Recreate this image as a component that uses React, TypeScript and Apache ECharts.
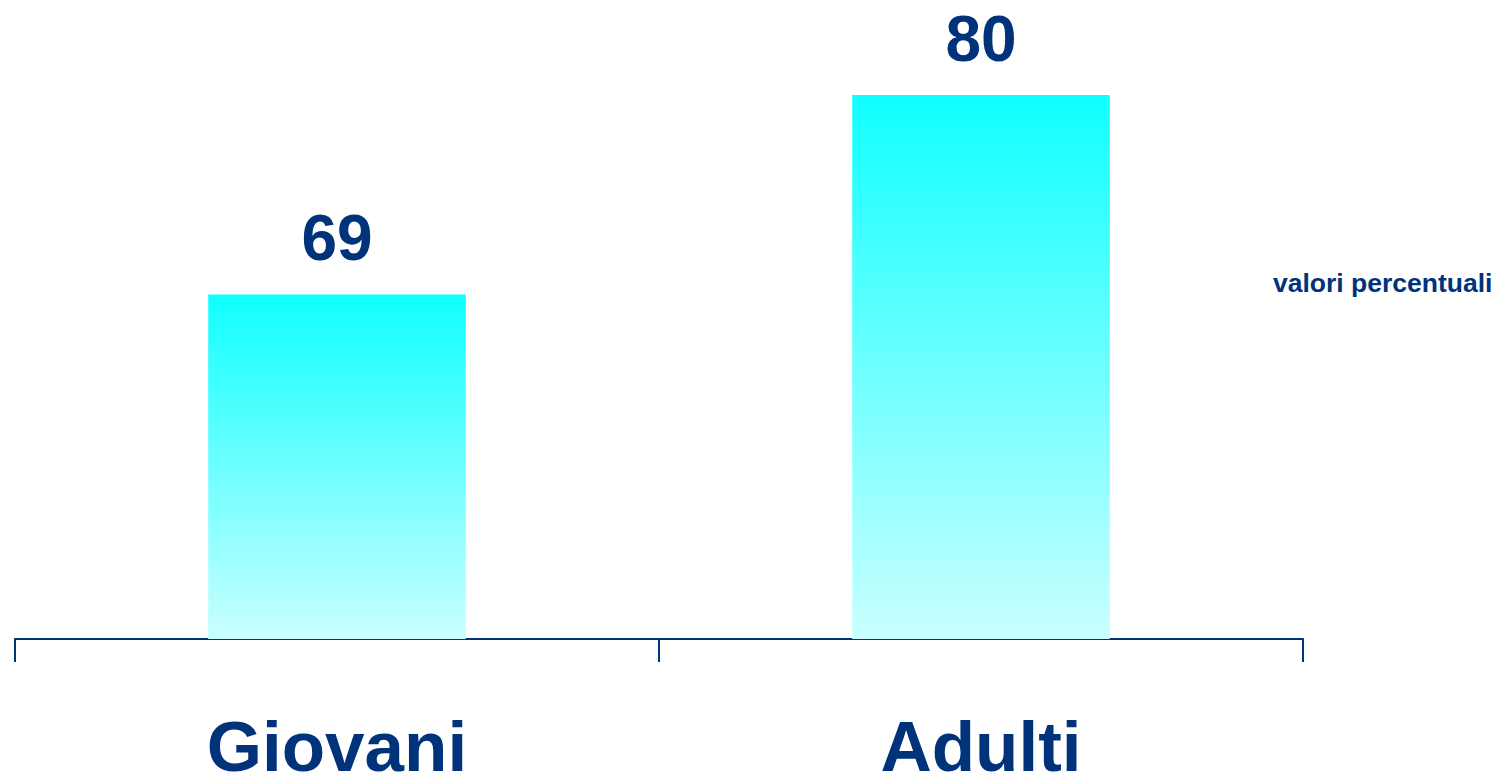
import React, { useEffect, useRef } from "react";
import * as echarts from "echarts";

const categories = ["Giovani", "Adulti"];
const values = [69, 80];
const unitNote = "valori percentuali";

const NAVY = "#00337a";

export default function App() {
  const ref = useRef<HTMLDivElement>(null);
  useEffect(() => {
    const chart = echarts.init(ref.current!, null, { renderer: "svg", width: 1507, height: 772 });
    chart.setOption({
      animation: false,
      backgroundColor: "#ffffff",
      grid: {
        left: 15,
        right: 204,
        top: 95,
        bottom: 133,
        containLabel: false,
        outerBoundsMode: "none",
      },
      xAxis: {
        type: "category",
        data: categories,
        boundaryGap: true,
        axisLine: { show: true, lineStyle: { color: NAVY, width: 2 } },
        axisTick: { show: true, length: 23, alignWithLabel: false, lineStyle: { color: NAVY, width: 2 } },
        axisLabel: {
          color: NAVY,
          fontSize: 71,
          fontWeight: "bold",
          fontFamily: "Liberation Sans, Arial, sans-serif",
          margin: 82,
          lineHeight: 50,
        },
      },
      yAxis: {
        type: "value",
        min: 50,
        max: 80,
        show: false,
        splitLine: { show: false },
      },
      series: [
        {
          type: "bar",
          data: values,
          barWidth: "40%",
          itemStyle: {
            color: new echarts.graphic.LinearGradient(0, 0, 0, 1, [
              { offset: 0, color: "#10ffff" },
              { offset: 1, color: "#caffff" },
            ]),
          },
          label: {
            show: true,
            position: "top",
            distance: 24,
            color: NAVY,
            fontSize: 64,
            fontWeight: "bold",
            fontFamily: "Liberation Sans, Arial, sans-serif",
          },
        },
      ],
      graphic: [
        {
          type: "text",
          left: 1273,
          top: 269,
          style: {
            text: unitNote,
            fill: NAVY,
            fontSize: 26.5,
            fontWeight: "bold",
            fontFamily: "Liberation Sans, Arial, sans-serif",
          },
        },
      ],
    });
    return () => chart.dispose();
  }, []);
  return (
    <div
      ref={ref}
      style={{ position: "fixed", left: 0, top: 0, width: 1507, height: 772 }}
    />
  );
}
